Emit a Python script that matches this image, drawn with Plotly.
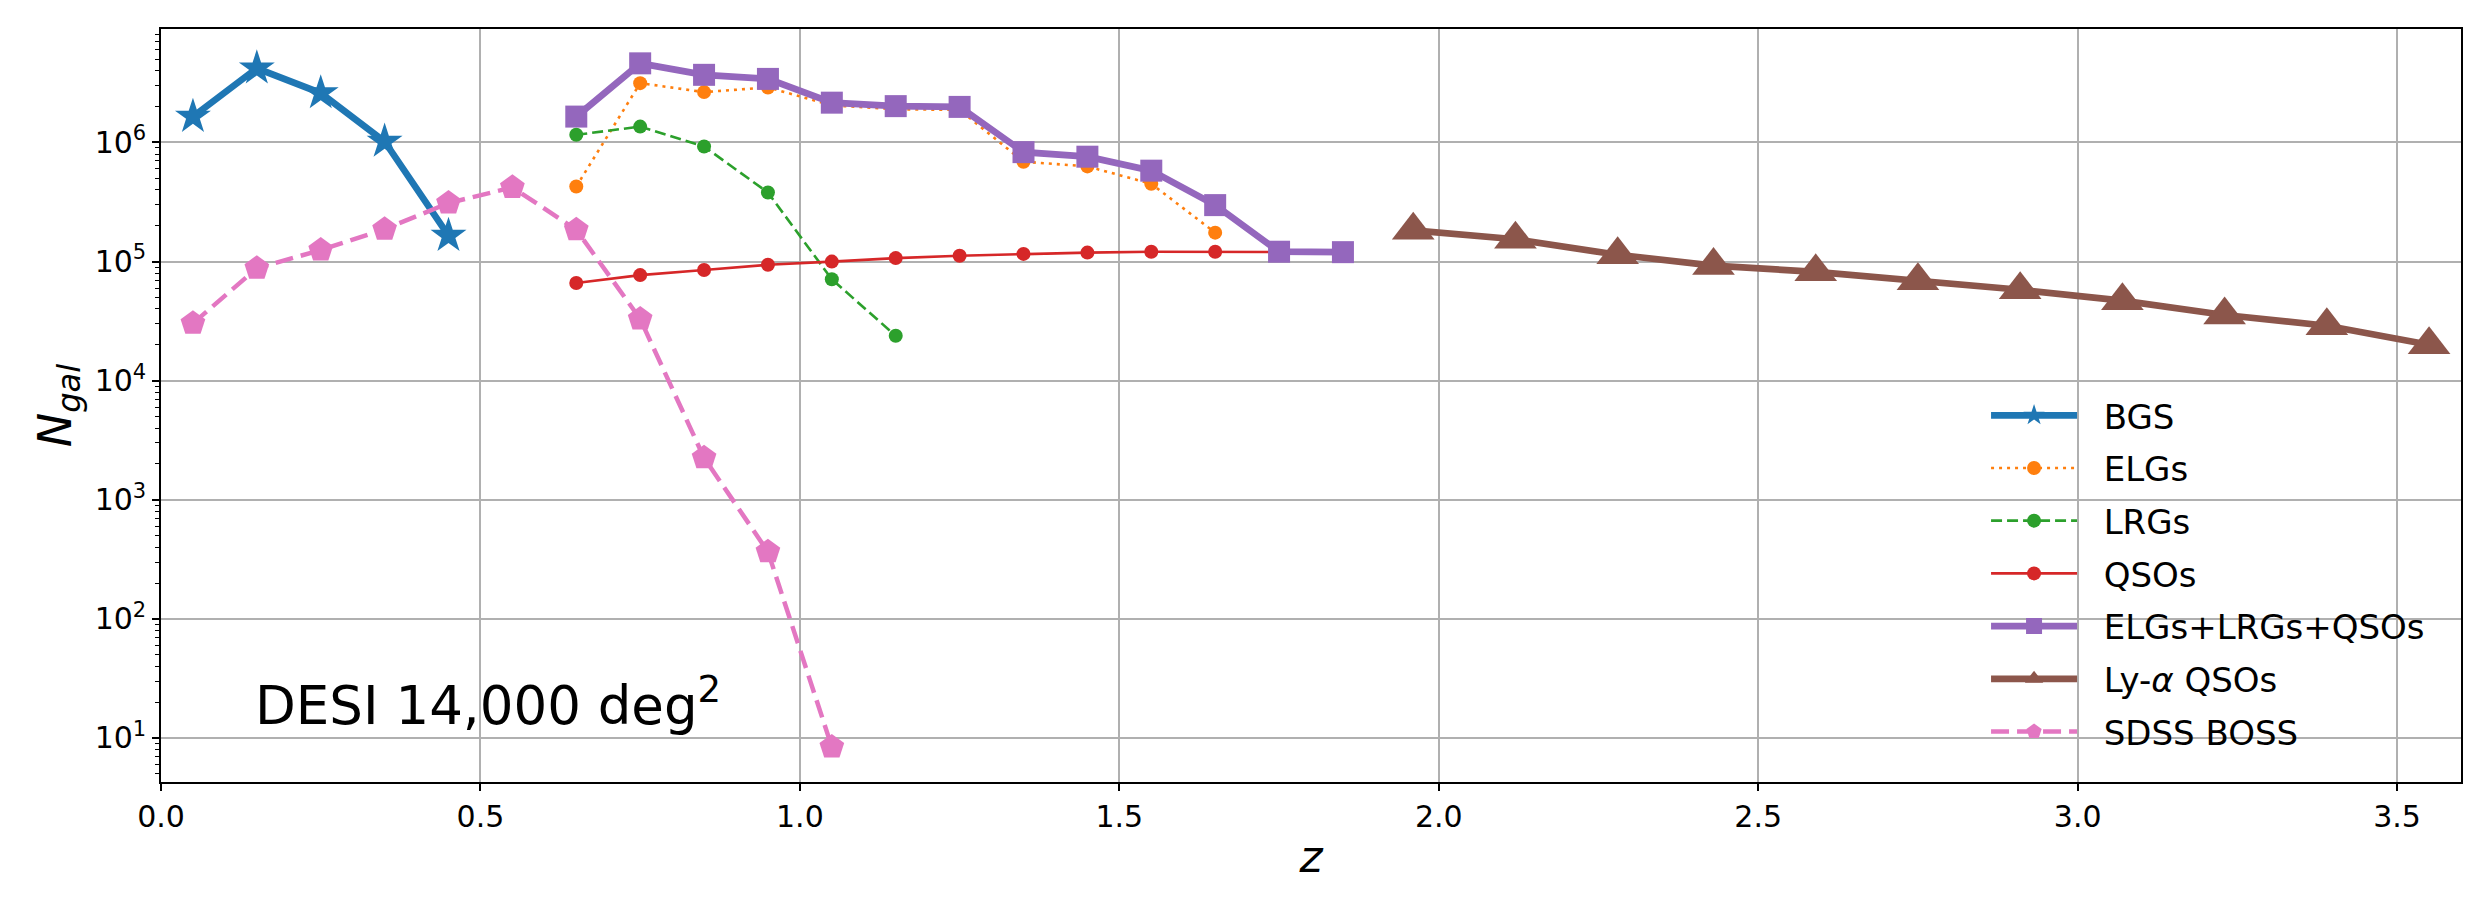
import plotly.graph_objects as go
import numpy as np

# ---------------- data ----------------
bgs_z = [0.05, 0.15, 0.25, 0.35, 0.45]
bgs_n = [1.65e6, 4.2e6, 2.6e6, 1.02e6, 1.65e5]

elg_z = [0.65, 0.75, 0.85, 0.95, 1.05, 1.15, 1.25, 1.35, 1.45, 1.55, 1.65]
elg_n = [4.27e5, 3.15e6, 2.65e6, 2.9e6, 2.05e6, 1.9e6, 1.88e6, 6.9e5, 6.3e5, 4.5e5, 1.75e5]

lrg_z = [0.65, 0.75, 0.85, 0.95, 1.05, 1.15]
lrg_n = [1.16e6, 1.36e6, 9.25e5, 3.8e5, 7.1e4, 2.38e4]

qso_z = [0.65, 0.75, 0.85, 0.95, 1.05, 1.15, 1.25, 1.35, 1.45, 1.55, 1.65, 1.75, 1.85]
qso_n = [6.6e4, 7.7e4, 8.5e4, 9.4e4, 1.0e5, 1.07e5, 1.12e5, 1.16e5, 1.19e5, 1.21e5, 1.21e5, 1.21e5, 1.2e5]

tot_z = [0.65, 0.75, 0.85, 0.95, 1.05, 1.15, 1.25, 1.35, 1.45, 1.55, 1.65, 1.75, 1.85]
tot_n = [1.65e6, 4.62e6, 3.7e6, 3.42e6, 2.16e6, 2.02e6, 1.99e6, 8.3e5, 7.6e5, 5.8e5, 2.98e5, 1.21e5, 1.2e5]

lya_z = [1.96, 2.12, 2.28, 2.43, 2.59, 2.75, 2.91, 3.07, 3.23, 3.39, 3.55]
lya_n = [1.83e5, 1.54e5, 1.14e5, 9.25e4, 8.2e4, 6.9e4, 5.8e4, 4.7e4, 3.56e4, 2.89e4, 2.0e4]

boss_z = [0.05, 0.15, 0.25, 0.35, 0.45, 0.55, 0.65, 0.75, 0.85, 0.95, 1.05]
boss_n = [3.03e4, 8.8e4, 1.25e5, 1.87e5, 3.1e5, 4.2e5, 1.85e5, 3.3e4, 2.25e3, 366, 8.4]

x_ticks = [0.0, 0.5, 1.0, 1.5, 2.0, 2.5, 3.0, 3.5]
y_exps = [1, 2, 3, 4, 5, 6]

FONT = "DejaVu Sans"
PAD = "\u00a0\u00a0"

series = [
    dict(name="BGS", x=bgs_z, y=bgs_n, color="#1f77b4", lw=6.7, dash="solid", sym="star", size=27),
    dict(name="ELGs", x=elg_z, y=elg_n, color="#ff7f0e", lw=2.6, dash="3px,5px", sym="circle", size=14),
    dict(name="LRGs", x=lrg_z, y=lrg_n, color="#2ca02c", lw=2.6, dash="11px,5px", sym="circle", size=14),
    dict(name="QSOs", x=qso_z, y=qso_n, color="#d62728", lw=2.6, dash="solid", sym="circle", size=14),
    dict(name="ELGs+LRGs+QSOs", x=tot_z, y=tot_n, color="#9467bd", lw=6.7, dash="solid", sym="square", size=22),
    dict(name="Ly-<i>α</i> QSOs", x=lya_z, y=lya_n, color="#8c564b", lw=6.7, dash="solid", sym="triangle-up", size=37),
    dict(name="SDSS BOSS", x=boss_z, y=boss_n, color="#e377c2", lw=4.5, dash="18px,8px", sym="pentagon", size=26),
]

fig = go.Figure()
for i, s in enumerate(series):
    fig.add_trace(go.Scatter(
        x=s["x"], y=s["y"], name=PAD + s["name"], mode="lines+markers",
        legendgroup=f"g{i}",
        line=dict(color=s["color"], width=s["lw"], dash=s["dash"]),
        marker=dict(symbol=s["sym"], size=s["size"], color=s["color"], line=dict(width=0)),
    ))

fig.add_annotation(
    x=0.144, y=1.30, xref="x", yref="y", xanchor="left", yanchor="middle",
    text="DESI 14,000 deg<sup>2</sup>", showarrow=False,
    font=dict(family=FONT, size=53, color="black"),
)

fig.update_layout(
    width=2490, height=900,
    margin=dict(l=161, r=29, t=29, b=118),
    paper_bgcolor="white", plot_bgcolor="white",
    font=dict(family=FONT, color="black"),
    showlegend=True,
    legend=dict(
        x=0.7935, y=0.525, xanchor="left", yanchor="top",
        bgcolor="rgba(0,0,0,0)", borderwidth=0,
        font=dict(family=FONT, size=34, color="black"),
        tracegroupgap=5.5, itemwidth=86,
    ),
)

fig.update_xaxes(
    range=[0, 3.6], tickvals=x_ticks, ticktext=[f"{v:.1f}" for v in x_ticks],
    showgrid=True, gridcolor="#b0b0b0", gridwidth=1.6,
    showline=True, linecolor="black", linewidth=1.6, mirror=True,
    ticks="outside", ticklen=7, tickwidth=1.6, tickcolor="black",
    tickfont=dict(family=FONT, size=30, color="black"),
    title=dict(text="<i>z</i>", font=dict(family=FONT, size=44, color="black"), standoff=8),
    zeroline=False, automargin=False,
)

fig.update_yaxes(
    type="log", range=[0.63, 6.953],
    tickvals=[10 ** e for e in y_exps], ticktext=[f"10<sup>{e}</sup>" for e in y_exps],
    showgrid=True, gridcolor="#b0b0b0", gridwidth=1.6,
    showline=True, linecolor="black", linewidth=1.6, mirror=True,
    ticks="outside", ticklen=7, tickwidth=1.6, tickcolor="black",
    tickfont=dict(family=FONT, size=30, color="black"),
    minor=dict(ticks="outside", ticklen=4, tickwidth=1.2, tickcolor="black", showgrid=False, dtick="D1"),
    title=dict(text="<i>N</i><sub><i>gal</i></sub>", font=dict(family=FONT, size=46, color="black"), standoff=9),
    zeroline=False, automargin=False,
)

fig.write_html("out.html")
